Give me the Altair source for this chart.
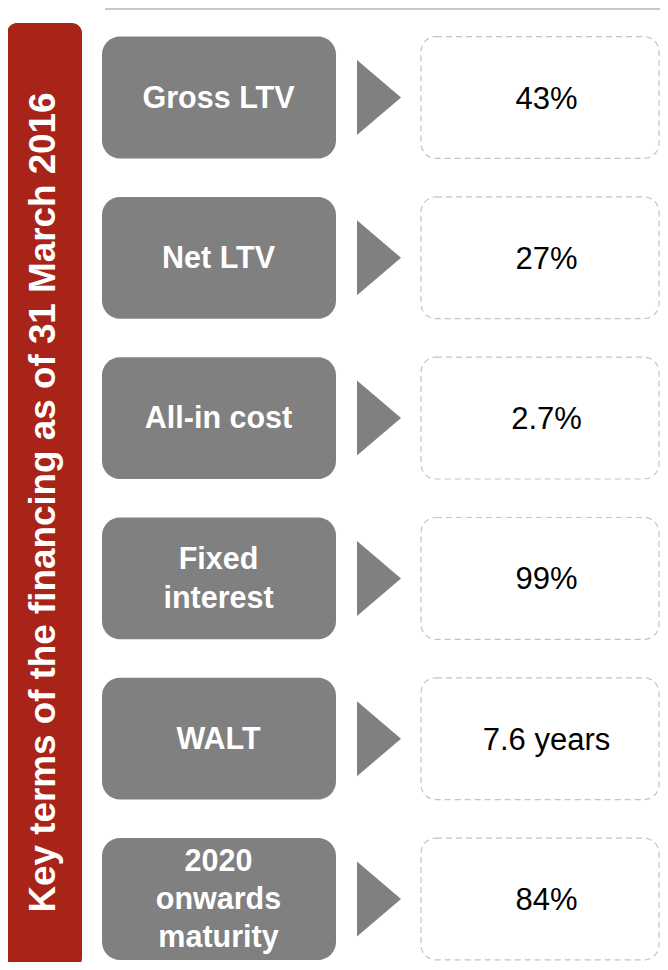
import altair as alt
import pandas as pd

# ---- data ----
labels = ["Gross LTV", "Net LTV", "All-in cost", "Fixed\ninterest", "WALT", "2020\nonwards\nmaturity"]
values = ["43%", "27%", "2.7%", "99%", "7.6 years", "84%"]
side_title = ["Key terms of the financing as of 31 March 2016"]

df = pd.DataFrame({"row": list(range(len(labels))), "label": labels, "value": values})
tdf = pd.DataFrame({"t": side_title})

# ---- layout (page pixel units for x, row units for y) ----
W, H = 652, 954
ROW0, STEP = 97.5, 160.3
LINE_H = 38.3


def prow(p):
    """convert a page y pixel into row units"""
    return (p - ROW0) / STEP


# one text row per label line, offset around the row centre
line_rows = []
for r, lab in enumerate(labels):
    parts = lab.split("\n")
    n = len(parts)
    for k, part in enumerate(parts):
        line_rows.append({"row": r, "line": part, "k": k, "n": n})
ldf = pd.DataFrame(line_rows)

xs = alt.Scale(domain=[8, 8 + W], nice=False, zero=False)
ys = alt.Scale(domain=[prow(8), prow(8 + H)], reverse=True, nice=False, zero=False)
HALF = 0.38

base = alt.Chart(df).transform_calculate(
    y0=f"datum.row - {HALF}", y1=f"datum.row + {HALF}",
    yv=f"datum.row + {2.0 / STEP}",
)

gray = "#808080"
red = "#A82318"
FONT = "Liberation Sans"

top_line = alt.Chart(tdf).mark_rule(color="#c8c8c8", strokeWidth=2).encode(
    x=alt.X(datum=105, scale=xs, axis=None),
    x2=alt.X2(datum=8 + W),
    y=alt.Y(datum=prow(9), scale=ys, axis=None),
)

red_bar = alt.Chart(tdf).mark_rect(color=red, cornerRadius=10).encode(
    x=alt.X(datum=7, scale=xs, axis=None),
    x2=alt.X2(datum=82),
    y=alt.Y(datum=prow(23), scale=ys, axis=None),
    y2=alt.Y2(datum=prow(968)),
)

side_text = alt.Chart(tdf).mark_text(
    angle=270, font=FONT, fontSize=36.8, fontWeight="bold", color="white",
    align="center", baseline="middle",
).encode(
    x=alt.X(datum=44, scale=xs, axis=None),
    y=alt.Y(datum=prow(502.5), scale=ys, axis=None),
    text="t:N",
)

boxes = base.mark_rect(color=gray, cornerRadius=18).encode(
    x=alt.X(datum=102, scale=xs, axis=None),
    x2=alt.X2(datum=336),
    y=alt.Y("y0:Q", scale=ys, axis=None),
    y2="y1:Q",
)

arrows = base.mark_point(
    shape="M -0.587 -1 L 0.587 0 L -0.587 1 Z", size=5625, filled=True,
    color=gray, opacity=1, strokeWidth=0,
).encode(
    x=alt.X(datum=379, scale=xs, axis=None),
    y=alt.Y("row:Q", scale=ys, axis=None),
)

dashed = base.mark_rect(
    fill="white", stroke="#c4c4c4", strokeWidth=1.2, strokeDash=[6, 4], cornerRadius=15,
).encode(
    x=alt.X(datum=421, scale=xs, axis=None),
    x2=alt.X2(datum=659),
    y=alt.Y("y0:Q", scale=ys, axis=None),
    y2="y1:Q",
)

label_text = alt.Chart(ldf).transform_calculate(
    yl=f"datum.row + ((datum.k - (datum.n - 1) / 2) * {LINE_H} + 1.0) / {STEP}"
).mark_text(
    font=FONT, fontSize=30.5, fontWeight="bold", color="white",
    align="center", baseline="middle",
).encode(
    x=alt.X(datum=218.5, scale=xs, axis=None),
    y=alt.Y("yl:Q", scale=ys, axis=None),
    text="line:N",
)

value_text = base.mark_text(
    font=FONT, fontSize=31, color="black", align="center", baseline="middle",
).encode(
    x=alt.X(datum=546.5, scale=xs, axis=None),
    y=alt.Y("yv:Q", scale=ys, axis=None),
    text="value:N",
)

chart = alt.layer(
    top_line, red_bar, side_text, boxes, arrows, dashed, label_text, value_text
).properties(
    width=W, height=H, padding=0, autosize="none", background="white",
).configure_view(stroke=None)

chart.save("out.html", embed_options={"renderer": "svg", "actions": False})
